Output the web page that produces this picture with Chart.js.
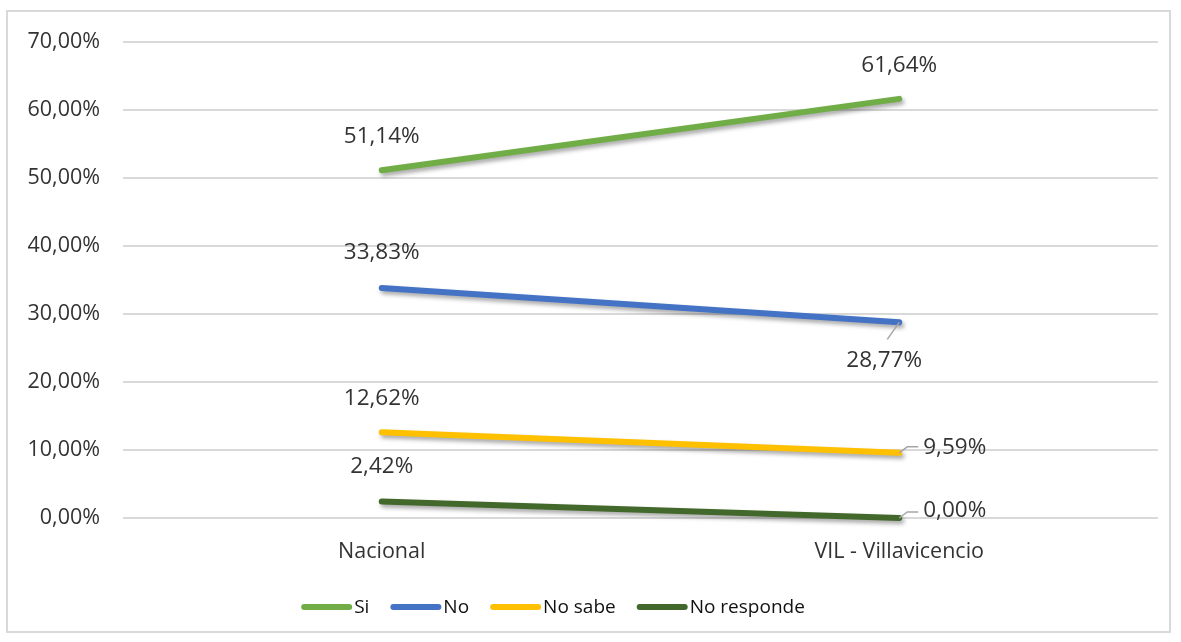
<!DOCTYPE html>
<html lang="es">
<head>
<meta charset="UTF-8">
<title>Si / No - Nacional vs Villavicencio</title>
<script src="https://cdn.jsdelivr.net/npm/chart.js@4.4.3/dist/chart.umd.min.js"></script>
<style>
    html, body { margin: 0; padding: 0; background: #fff; }
    #wrap { position: relative; width: 1181px; height: 642px; }
    #frame { position: absolute; left: 6px; top: 10px; width: 1165px; height: 623px; border: 2px solid #d9d9d9; box-sizing: border-box; }
    #chart { position: absolute; left: 0; top: 0; }
</style>
</head>
<body>
<div id="wrap">
    <div id="frame"></div>
    <canvas id="chart" width="1181" height="642"></canvas>
</div>
<script>
    // datos
    const categories = ['Nacional', 'VIL - Villavicencio'];
    const seriesNames = ['Si', 'No', 'No sabe', 'No responde'];
    const siValues = [51.14, 61.64];
    const noValues = [33.83, 28.77];
    const noSabeValues = [12.62, 9.59];
    const noRespondeValues = [2.42, 0.00];
    const yTicks = [0, 10, 20, 30, 40, 50, 60, 70];

    const colors = ['#70AD47', '#4472C4', '#FFC000', '#43682B'];
    const FONT = '"Open Sans", "DejaVu Sans", sans-serif';
    const TEXT = '#333333';

    // posicion de etiquetas: [dx, dy, align, leader]
    const labelPlace = [
        [[0, -34, 'center'], [0, -33, 'center']],
        [[0, -35, 'center'], [-15, 38, 'center', [[-12, 17]]]],
        [[0, -34, 'center'], [24, -5, 'left', [[8, -6], [19, -6]]]],
        [[0, -35, 'center'], [24, -7, 'left', [[8, -6], [19, -6]]]]
    ];

    function fmt(v) {
        return v.toFixed(2).replace('.', ',') + '%';
    }

    const allSeries = [siValues, noValues, noSabeValues, noRespondeValues];

    const labelsPlugin = {
        id: 'labelsPlugin',
        beforeDatasetsDraw(chart) {
            const ctx = chart.ctx;
            ctx.save();
            ctx.shadowColor = 'rgba(0,0,0,0.35)';
            ctx.shadowBlur = 4;
            ctx.shadowOffsetX = 2;
            ctx.shadowOffsetY = 3;
        },
        afterDatasetsDraw(chart) {
            const ctx = chart.ctx;
            ctx.restore();
            ctx.save();
            ctx.font = '22.5px ' + FONT;
            ctx.fillStyle = TEXT;
            ctx.textBaseline = 'middle';
            chart.data.datasets.forEach((ds, i) => {
                const meta = chart.getDatasetMeta(i);
                meta.data.forEach((pt, j) => {
                    const p = labelPlace[i][j];
                    if (p[3]) {
                        ctx.strokeStyle = '#a6a6a6';
                        ctx.lineWidth = 1.5;
                        ctx.beginPath();
                        ctx.moveTo(pt.x, pt.y);
                        p[3].forEach(q => ctx.lineTo(pt.x + q[0], pt.y + q[1]));
                        ctx.stroke();
                    }
                    ctx.textAlign = p[2];
                    ctx.fillText(fmt(ds.data[j]), pt.x + p[0], pt.y + p[1]);
                });
            });
            ctx.restore();
        },
        afterDraw(chart) {
            // leyenda
            const ctx = chart.ctx;
            ctx.save();
            ctx.font = '19px ' + FONT;
            ctx.textBaseline = 'middle';
            ctx.textAlign = 'left';
            const lineW = 51, gapText = 2, gapItem = 21;
            let total = 0;
            seriesNames.forEach((n, i) => {
                total += lineW + gapText + ctx.measureText(n).width;
                if (i < seriesNames.length - 1) total += gapItem;
            });
            let x = 553 - total / 2;
            const y = 607;
            seriesNames.forEach((n, i) => {
                ctx.strokeStyle = colors[i];
                ctx.lineWidth = 6;
                ctx.lineCap = 'round';
                ctx.beginPath();
                ctx.moveTo(x + 3, y);
                ctx.lineTo(x + lineW - 3, y);
                ctx.stroke();
                x += lineW + gapText;
                ctx.fillStyle = '#111';
                ctx.fillText(n, x, y + 1);
                x += ctx.measureText(n).width + gapItem;
            });
            ctx.restore();
        }
    };

    const ctx = document.getElementById('chart').getContext('2d');
    new Chart(ctx, {
        type: 'line',
        data: {
            labels: categories,
            datasets: allSeries.map((vals, i) => ({
                label: seriesNames[i],
                data: vals,
                borderColor: colors[i],
                backgroundColor: colors[i],
                borderWidth: 6,
                borderCapStyle: 'round',
                pointRadius: 0,
                tension: 0,
                clip: false
            }))
        },
        plugins: [labelsPlugin],
        options: {
            responsive: false,
            animation: false,
            layout: { padding: { left: 0, right: 23, top: 42, bottom: 70 } },
            plugins: {
                legend: { display: false },
                tooltip: { enabled: false }
            },
            scales: {
                x: {
                    offset: true,
                    grid: { display: false, drawTicks: false },
                    border: { display: false },
                    ticks: { color: TEXT, font: { family: FONT, size: 21.5 }, padding: 21 },
                    afterFit(axis) { axis.height = 54; }
                },
                y: {
                    min: 0,
                    max: 70,
                    afterBuildTicks(axis) { axis.ticks = yTicks.map(v => ({ value: v })); },
                    grid: { color: '#d9d9d9', lineWidth: 2, drawTicks: false },
                    border: { display: false },
                    ticks: {
                        color: TEXT,
                        font: { family: FONT, size: 21.5 },
                        padding: 23,
                        callback: v => fmt(v)
                    },
                    afterFit(axis) { axis.width = 123; }
                }
            }
        }
    });
</script>
</body>
</html>
